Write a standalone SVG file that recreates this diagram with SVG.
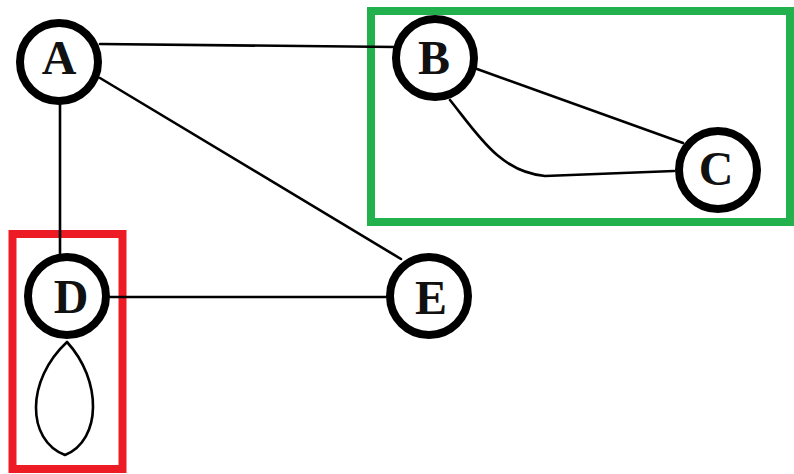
<svg xmlns="http://www.w3.org/2000/svg" width="794" height="474" viewBox="0 0 794 474">
<style>
.edge{fill:none;stroke:#000;stroke-width:2.6;stroke-linecap:round;stroke-linejoin:round}
.node circle{fill:#fff;stroke:#000;stroke-width:8}
.node text{font-family:"Liberation Serif","Times New Roman",serif;font-weight:bold;font-size:48px;fill:#111;text-anchor:middle}
.box{fill:none;stroke-width:8}
</style>
<rect width="794" height="474" fill="#fff"/>
<rect id="green-box" class="box" x="371" y="11" width="419" height="211" stroke="#22b14c"/>
<rect id="red-box" class="box" x="12.5" y="234" width="110" height="235" stroke="#ed1c24"/>
<g id="connectors">
<path class="edge" d="M100,44 L396,47"/>
<path class="edge" d="M100,78 L401,259"/>
<path class="edge" d="M60,102 L60,253"/>
<path class="edge" d="M110,297 L386,297"/>
<path class="edge" d="M477,69 L683,143"/>
<path class="edge" d="M450,100 C478,135 500,172 545,176 L674,171"/>
<path class="edge" d="M67,342 C26,380 26,440 65,455 C102,440 102,380 67,342 Z"/>
</g>
<g id="node-A" class="node"><circle cx="59" cy="62" r="39"/><text x="59" y="74">A</text></g>
<g id="node-B" class="node"><circle cx="435" cy="58" r="39"/><text x="434" y="74">B</text></g>
<g id="node-C" class="node"><circle cx="718" cy="170" r="39"/><text x="716" y="185">C</text></g>
<g id="node-D" class="node"><circle cx="67" cy="296" r="39"/><text x="71" y="313">D</text></g>
<g id="node-E" class="node"><circle cx="429" cy="296" r="39"/><text x="431" y="314">E</text></g>
</svg>
